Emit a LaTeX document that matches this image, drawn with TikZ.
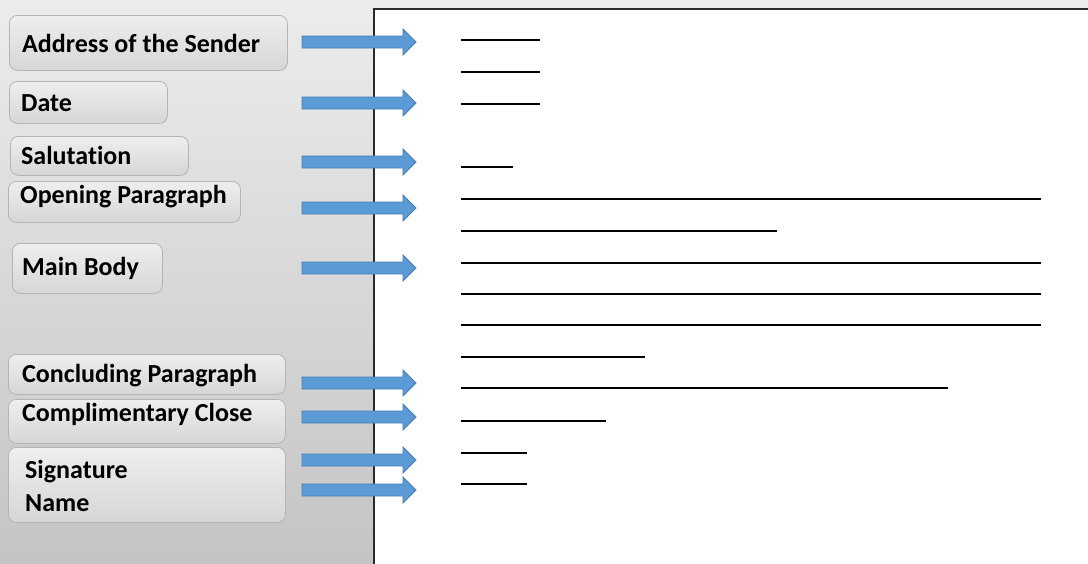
\documentclass[tikz,border=0pt]{standalone}
\usepackage{fontspec}
\setmainfont{Carlito}[Ligatures=NoCommon]
\begin{document}
\begin{tikzpicture}[x=1pt,y=-1pt,
  box/.style={draw=boxline, line width=0.8pt, rounded corners=8pt, top color=boxtop, bottom color=boxbot, inner sep=0pt, anchor=north west},
  lbl/.style={anchor=west, inner sep=0pt, font=\fontsize{26}{30}\selectfont\bfseries, text=black},
  barrow/.pic={\filldraw[fill=arrowblue, draw=arrowedge, line width=0.8pt] (0,-6)--(101,-6)--(101,-13)--(114,0)--(101,13)--(101,6)--(0,6)--cycle;},
  ruleline/.style={line width=2.8pt, black}]
\definecolor{bgtop}{HTML}{ECECEC}
\definecolor{bgbot}{HTML}{C4C4C4}
\definecolor{boxtop}{HTML}{EEEEEE}
\definecolor{boxbot}{HTML}{D6D6D6}
\definecolor{boxline}{HTML}{B4B4B4}
\definecolor{arrowblue}{HTML}{5B9BD5}
\definecolor{arrowedge}{HTML}{4A7FB5}
\definecolor{pageedge}{HTML}{2A2A2A}
\useasboundingbox (0,0) rectangle (1088,563);
\shade[top color=bgtop, bottom color=bgbot] (0,0) rectangle (1088,563);
% page
\fill[white] (374,9) rectangle (1090,565);
\draw[pageedge, line width=1.6pt] (374,565) -- (374,9) -- (1090,9);
% boxes
\node[box, minimum width=278pt, minimum height=55pt] (baddr) at (9,15) {};
\node[box, minimum width=158pt, minimum height=42pt] (bdate) at (9,81) {};
\node[box, minimum width=178pt, minimum height=39pt] (bsal) at (10,136) {};
\node[box, minimum width=232pt, minimum height=41pt] (bopen) at (8,181) {};
\node[box, minimum width=150pt, minimum height=50pt] (bmain) at (12,243) {};
\node[box, minimum width=277pt, minimum height=40pt] (bconc) at (8,354) {};
\node[box, minimum width=277pt, minimum height=44pt] (bcomp) at (8,399) {};
\node[box, minimum width=277pt, minimum height=75pt] (bsig) at (8,447) {};
% labels
\node[lbl] (taddr) at (22,43) {Address of the Sender};
\node[lbl] (tdate) at (21,103) {Date};
\node[lbl] (tsal) at (21,155) {Salutation};
\node[lbl] (topen) at (20,197) {Opening Paragraph};
\node[lbl] (tmain) at (22,268) {Main Body};
\node[lbl] (tconc) at (22,376) {Concluding Paragraph};
\node[lbl] (tcomp) at (22,414) {Complimentary Close};
\node[lbl] (tsig) at (25,472) {Signature};
\node[lbl] (tname) at (25,503) {Name};
% arrows
\foreach \yy in {42,103,162,208,268,383,417,460,490}
  \pic at (302,\yy) {barrow};
% letter lines
\foreach \yy/\xe in {40/540,72/540,104/540,167/513,199/1041,231/777,263/1041,294/1041,325/1041,357/645,388/948,421/606,453/527,484/527}
  \draw[ruleline] (461,\yy) -- (\xe,\yy);
\end{tikzpicture}
\end{document}
